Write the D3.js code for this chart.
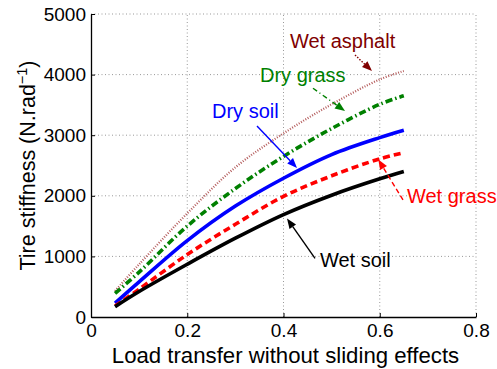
<!DOCTYPE html>
<html><head><meta charset="utf-8">
<script src="https://cdn.jsdelivr.net/npm/d3@7"></script>
<style>body{margin:0;background:#fff}svg{display:block;font-family:"Liberation Sans",Arial,sans-serif}</style>
</head><body>
<script>
// ---- data ----
const loadTransfer = [0.05, 0.1, 0.2, 0.3, 0.4, 0.5, 0.6, 0.65];
const wetAsphalt = [430, 870, 1710, 2470, 3030, 3510, 3920, 4060];
const dryGrass   = [390, 740, 1500, 2120, 2650, 3110, 3510, 3650];
const drySoil    = [230, 580, 1260, 1830, 2290, 2680, 2960, 3080];
const wetGrass   = [180, 460, 1030, 1530, 1990, 2330, 2610, 2710];
const wetSoil    = [170, 420, 870, 1300, 1690, 2010, 2280, 2400];
const seriesNames = ["Wet asphalt", "Dry grass", "Dry soil", "Wet grass", "Wet soil"];
const xTicks = [0, 0.2, 0.4, 0.6, 0.8];
const yTicks = [0, 1000, 2000, 3000, 4000, 5000];
// annotation text anchor, arrow start, arrow tip (data units)
const annoText  = [[0.4135, 4439], [0.3512, 3883], [0.2514, 3284], [0.6566, 1876], [0.4758, 820]];
const annoStart = [[0.5486, 4323], [0.4613, 3774], [0.3449, 3152], [0.6483, 1931], [0.4655, 969]];
const annoTip   = [[0.5839, 4059], [0.5278, 3399], [0.4281, 2459], [0.5970, 2599], [0.4073, 1625]];

const W = 497, H = 369;
const m = {l: 91, t: 14, r: 21, b: 52};
const x = d3.scaleLinear().domain([0, 0.8]).range([m.l, W - m.r]);
const y = d3.scaleLinear().domain([0, 5000]).range([H - m.b, m.t]);

const svg = d3.select("body").append("svg").attr("width", W).attr("height", H);

// grid
const g = svg.append("g");
g.selectAll(".gx").data(xTicks.slice(1)).join("line")
  .attr("x1", d => x(d)).attr("x2", d => x(d)).attr("y1", y(0)).attr("y2", y(5000))
  .attr("stroke", "#999").attr("stroke-width", 1).attr("stroke-dasharray", "1,2.5");
g.selectAll(".gy").data(yTicks.slice(1)).join("line")
  .attr("y1", d => y(d)).attr("y2", d => y(d)).attr("x1", x(0)).attr("x2", x(0.8))
  .attr("stroke", "#999").attr("stroke-width", 1).attr("stroke-dasharray", "1,2.5");

// axes
const xAxis = d3.axisBottom(x).tickValues(xTicks).tickSizeInner(-4).tickSizeOuter(0).tickPadding(6.5)
  .tickFormat(d => d === 0 ? "0" : d3.format(".1f")(d));
const yAxis = d3.axisLeft(y).tickValues(yTicks).tickSizeInner(-4).tickSizeOuter(0).tickPadding(5)
  .tickFormat(d3.format("d"));
const ax = svg.append("g").attr("transform", `translate(0,${y(0)})`).call(xAxis);
const ay = svg.append("g").attr("transform", `translate(${x(0)},0)`).call(yAxis);
[ax, ay].forEach(a => {
  a.select(".domain").attr("stroke", "#000").attr("stroke-width", 1.3);
  a.selectAll(".tick line").attr("stroke", "#000");
  a.selectAll("text").attr("font-size", 19).attr("fill", "#000").attr("font-family", "Liberation Sans, Arial, sans-serif");
});

// series
const seriesData = [wetAsphalt, dryGrass, drySoil, wetGrass, wetSoil];
const styles = [
  {c: "#b35a5a", w: 2.2, dash: "1,1.6"},
  {c: "#008000", w: 3.6, dash: "7,3,1.5,3"},
  {c: "#0000ff", w: 3.6, dash: null},
  {c: "#ff0000", w: 3.6, dash: "7,4"},
  {c: "#000000", w: 3.6, dash: null}
];
const annoColors = ["#800000", "#008000", "#0000ff", "#ff0000", "#000000"];
const arrowDash = ["1.5,1.5", "5,3,1,3", null, "5,3", null];
const line = d3.line().x(d => x(d[0])).y(d => y(d[1])).curve(d3.curveCatmullRom.alpha(0.5));
svg.append("g").selectAll("path").data(seriesData).join("path")
  .attr("d", vals => line(loadTransfer.map((t, i) => [t, vals[i]])))
  .attr("fill", "none")
  .attr("stroke", (d, i) => styles[i].c)
  .attr("stroke-width", (d, i) => styles[i].w)
  .attr("stroke-dasharray", (d, i) => styles[i].dash);

// annotations
const an = svg.append("g");
seriesNames.forEach((name, i) => {
  const [sx, sy] = [x(annoStart[i][0]), y(annoStart[i][1])];
  const [tx, ty] = [x(annoTip[i][0]), y(annoTip[i][1])];
  const dx = tx - sx, dy = ty - sy, len = Math.hypot(dx, dy);
  const ux = dx / len, uy = dy / len;
  const hl = 10, hw = 4;
  const bx = tx - ux * hl, by = ty - uy * hl;
  an.append("line").attr("x1", sx).attr("y1", sy).attr("x2", bx).attr("y2", by)
    .attr("stroke", annoColors[i]).attr("stroke-width", 1.4).attr("stroke-dasharray", arrowDash[i]);
  an.append("path")
    .attr("d", `M${tx},${ty}L${bx - uy * hw},${by + ux * hw}L${bx + uy * hw},${by - ux * hw}Z`)
    .attr("fill", annoColors[i]);
  an.append("text").attr("x", x(annoText[i][0])).attr("y", y(annoText[i][1]))
    .attr("font-size", 20).attr("fill", annoColors[i]).text(name);
});

// axis labels
svg.append("text").attr("x", (x(0) + x(0.8)) / 2 + 2).attr("y", 363).attr("text-anchor", "middle")
  .attr("font-size", 22.2).text("Load transfer without sliding effects");
const yl = svg.append("text").attr("transform", `translate(35,${(y(0) + y(5000)) / 2}) rotate(-90)`)
  .attr("text-anchor", "middle").attr("font-size", 21.5);
yl.append("tspan").text("Tire stiffness (N.rad");
yl.append("tspan").attr("dy", -8).attr("font-size", 14.5).text("−1");
yl.append("tspan").attr("dy", 8).text(")");
</script>
</body></html>
